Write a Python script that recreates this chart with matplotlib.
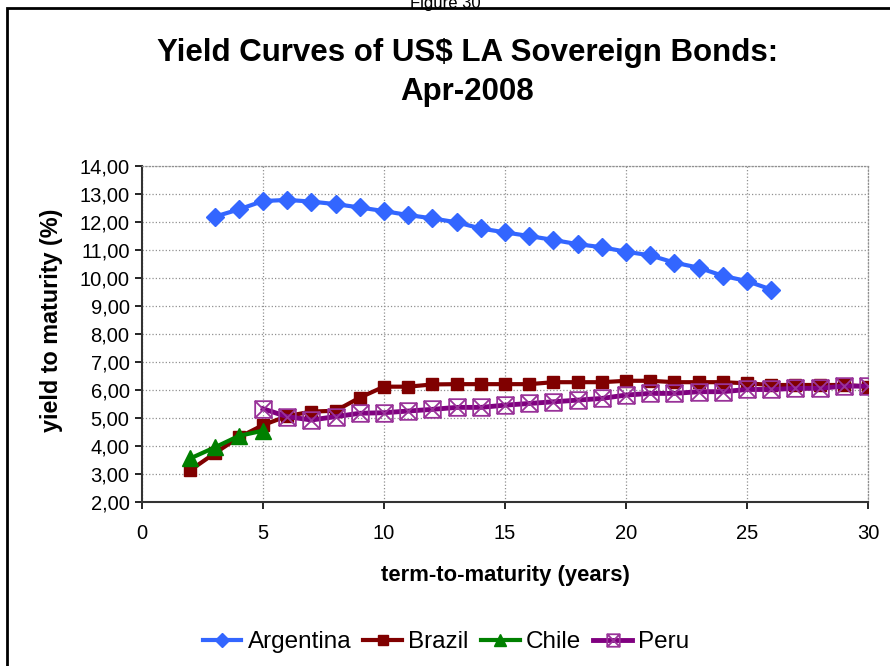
import numpy as np
import matplotlib.pyplot as plt
from matplotlib.path import Path
from matplotlib.patches import Rectangle
from matplotlib.ticker import FuncFormatter, MultipleLocator

plt.rcParams['font.family'] = ['Liberation Sans', 'DejaVu Sans']

# data
arg_years = list(range(3, 27))
arg_yield = [12.19, 12.45, 12.75, 12.79, 12.73, 12.64, 12.52, 12.39, 12.25, 12.13,
             11.99, 11.77, 11.63, 11.50, 11.36, 11.21, 11.10, 10.94, 10.81, 10.55,
             10.37, 10.08, 9.89, 9.59]

bra_years = list(range(2, 31))
bra_yield = [3.14, 3.74, 4.31, 4.75, 5.07, 5.23, 5.26, 5.73, 6.12, 6.12, 6.20,
             6.21, 6.21, 6.21, 6.21, 6.28, 6.28, 6.28, 6.33, 6.33, 6.28, 6.28,
             6.28, 6.24, 6.18, 6.18, 6.18, 6.18, 6.12]

chi_years = [2, 3, 4, 5]
chi_yield = [3.56, 3.95, 4.36, 4.55]

per_years = list(range(5, 31))
per_yield = [5.33, 5.05, 4.93, 5.05, 5.17, 5.19, 5.25, 5.31, 5.38, 5.38, 5.46,
             5.52, 5.58, 5.64, 5.70, 5.82, 5.88, 5.88, 5.94, 5.94, 6.02, 6.02,
             6.06, 6.06, 6.14, 6.14]

# square with an X inside, for Peru
box_x = Path([(-1, -1), (1, -1), (1, 1), (-1, 1), (-1, -1),
              (-1, -1), (1, 1), (-1, 1), (1, -1)],
             [Path.MOVETO, Path.LINETO, Path.LINETO, Path.LINETO, Path.CLOSEPOLY,
              Path.MOVETO, Path.LINETO, Path.MOVETO, Path.LINETO])

fig = plt.figure(figsize=(8.9, 6.66), dpi=100)
fig.patches.append(Rectangle((0.008, -0.05), 1.2, 0.988 + 0.05, transform=fig.transFigure,
                             fill=False, edgecolor='black', linewidth=2))
fig.text(0.5, 0.995, "Figure 30", ha='center', va='center', fontsize=12)

ax = fig.add_axes([0.1596, 0.2462, 0.8157, 0.5045])

ax.plot(arg_years, arg_yield, color='#3366FF', linewidth=3, marker='D',
        markersize=9, label='Argentina', zorder=3)
ax.plot(bra_years, bra_yield, color='#800000', linewidth=3, marker='s',
        markersize=9, label='Brazil', zorder=4)
ax.plot(chi_years, chi_yield, color='#008000', linewidth=3, marker='^',
        markersize=11, label='Chile', zorder=5)
ax.plot(per_years, per_yield, color='#800080', linewidth=3.5, marker=box_x,
        markersize=12, markerfacecolor='none', markeredgecolor='#993399',
        markeredgewidth=1.3, label='Peru', zorder=6)

ax.set_xlim(0, 30)
ax.set_ylim(2, 14)
ax.xaxis.set_major_locator(MultipleLocator(5))
ax.yaxis.set_major_locator(MultipleLocator(1))
ax.yaxis.set_major_formatter(FuncFormatter(lambda v, p: f"{v:.2f}".replace('.', ',')))
ax.tick_params(labelsize=14.5, direction='out', length=5, width=1.2, colors='black', pad=4)
ax.tick_params(axis='x', pad=11)

ax.grid(True, color='#909090', linestyle=':', linewidth=0.9)
ax.set_axisbelow(True)
for s in ['top', 'right']:
    ax.spines[s].set_color('#909090')
    ax.spines[s].set_linestyle(':')
    ax.spines[s].set_linewidth(0.9)
for s in ['left', 'bottom']:
    ax.spines[s].set_color('#333333')
    ax.spines[s].set_linewidth(1.5)

ax.set_xlabel("term-to-maturity (years)", fontsize=15.8, fontweight='bold', labelpad=16)
ax.set_ylabel("yield to maturity (%)", fontsize=16.8, fontweight='bold')
ax.yaxis.set_label_coords(-0.109, 0.542)

fig.text(0.525, 0.891, "Yield Curves of US$ LA Sovereign Bonds:\nApr-2008", ha='center',
         va='center', fontsize=22.5, fontweight='bold', linespacing=1.4)

leg = fig.legend(loc='center', bbox_to_anchor=(0.501, 0.036), ncol=4, frameon=False,
                 fontsize=17.5, handlelength=1.6, handletextpad=0.25, columnspacing=0.5,
                 borderaxespad=0)
for h in leg.legend_handles:
    h.set_markersize(h.get_markersize() * 0.75)

fig.savefig('out.png', dpi=100)
